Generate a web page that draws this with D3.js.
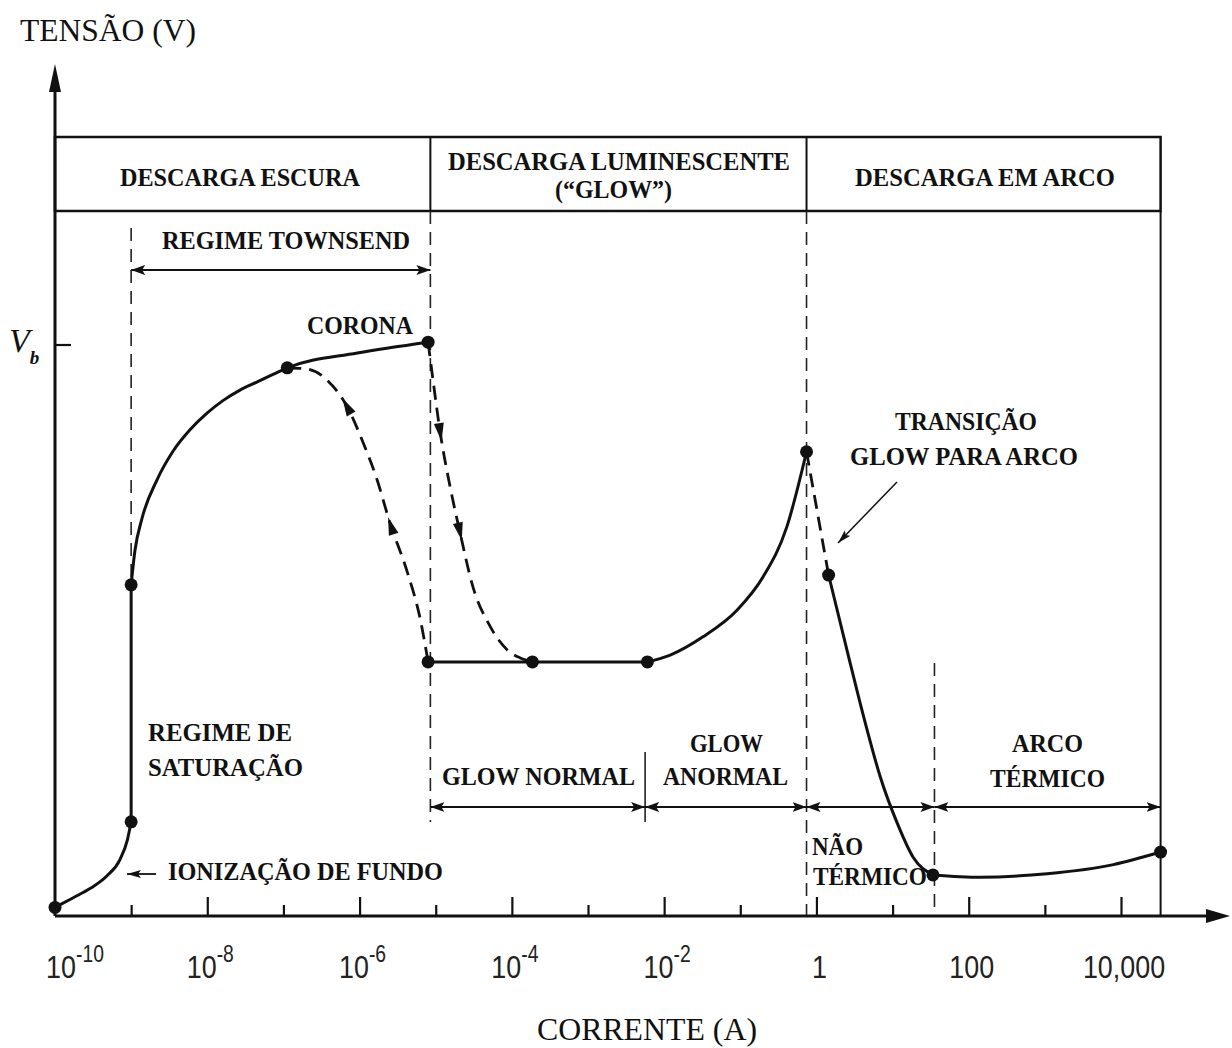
<!DOCTYPE html>
<html>
<head>
<meta charset="utf-8">
<script src="https://cdn.jsdelivr.net/npm/d3@7"></script>
<style>
  html, body { margin: 0; background: #fff; }
  svg { display: block; }
</style>
</head>
<body>
<svg id="chart" width="1232" height="1048"></svg>
<script>
// ---- Data: log10 of current (A) and voltage relative to breakdown (Vb = 100) ----
const decadeExponents = d3.range(-10, 5);
const labelExponents = [-10, -8, -6, -4, -2, 0, 2, 4];
const tickLabelBase = ["10", "10", "10", "10", "10", "1", "100", "10,000"];
const tickLabelSup = ["-10", "-8", "-6", "-4", "-2", "", "", ""];
const breakdownVoltage = 100;

const ionizationCurve = [[-10, 1.5], [-9.76, 3.2], [-9.54, 4.8], [-9.32, 7.0], [-9.15, 9.8], [-9.05, 13.3], [-9.0, 16.5]];
const saturationCurve = [[-9.0, 16.5], [-9.0, 58.0]];
const townsendCurve = [[-9.0, 58.0], [-8.95, 64.0], [-8.86, 69.5], [-8.66, 76.4], [-8.45, 81.4], [-8.23, 85.1],
  [-8.0, 88.1], [-7.79, 90.3], [-7.57, 92.1], [-7.35, 93.5], [-7.13, 94.9], [-6.95, 96.0], [-6.03, 98.6], [-5.1, 100.5]];
const normalGlowCurve = [[-5.1, 44.5], [-3.73, 44.5], [-2.22, 44.5]];
const abnormalGlowCurve = [[-2.22, 44.5], [-1.92, 45.7], [-1.49, 48.9], [-1.04, 53.6], [-0.70, 59.4], [-0.39, 68.1], [-0.13, 81.3]];
const glowToArcCurve = [[-0.13, 81.3], [0.16, 59.7]];
const nonThermalArcCurve = [[0.16, 59.7], [0.41, 46.1], [0.62, 34.9], [0.84, 24.3], [1.06, 16.3], [1.27, 10.3], [1.53, 7.2]];
const thermalArcCurve = [[1.53, 7.2], [2.15, 6.8], [3.03, 7.4], [3.90, 9.0], [4.52, 11.2]];
// hysteresis branches between Townsend and glow regimes
const returnBranch = [[-6.95, 96.0], [-6.69, 95.8], [-6.43, 93.9], [-6.16, 89.1], [-5.95, 82.8], [-5.77, 76.4],
  [-5.60, 68.8], [-5.37, 60.1], [-5.20, 51.8], [-5.1, 44.5]];
const breakdownBranch = [[-5.1, 100.5], [-5.03, 93.3], [-4.94, 84.6], [-4.81, 75.1], [-4.68, 67.1], [-4.51, 57.6],
  [-4.28, 50.6], [-4.06, 46.6], [-3.89, 45.2], [-3.73, 44.5]];
const markedPoints = [[-10, 1.5], [-9.0, 16.5], [-9.0, 58.0], [-6.95, 96.0], [-5.1, 100.5], [-5.1, 44.5],
  [-3.73, 44.5], [-2.22, 44.5], [-0.13, 81.3], [0.16, 59.7], [1.53, 7.2], [4.52, 11.2]];

// regime boundaries (log10 of current)
const saturationEdge = -9.0;
const glowEdge = -5.07;
const abnormalEdge = -2.25;
const arcEdge = -0.13;
const thermalEdge = 1.55;
const rightEdge = 4.52;

// ---- Scales ----
const svg = d3.select("#chart");
const x = d3.scaleLog().domain([1e-10, 1e4]).range([55, 1121]);
const y = d3.scaleLinear().domain([0, 100]).range([916, 345]);
const X = e => x(Math.pow(10, e));
const axisY = y(0);

const serif = "'Liberation Serif','Times New Roman',serif";
const sans = "'Liberation Sans',Arial,sans-serif";

const defs = svg.append("defs");
defs.append("marker")
  .attr("id", "head")
  .attr("viewBox", "0 0 14 10")
  .attr("refX", 14).attr("refY", 5)
  .attr("markerWidth", 14).attr("markerHeight", 10)
  .attr("markerUnits", "userSpaceOnUse")
  .attr("orient", "auto-start-reverse")
  .append("path").attr("d", "M0,0 L14,5 L0,10 L3,5 Z").attr("fill", "#111");
defs.append("marker")
  .attr("id", "thinHead")
  .attr("viewBox", "0 0 14 8")
  .attr("refX", 14).attr("refY", 4)
  .attr("markerWidth", 14).attr("markerHeight", 8)
  .attr("markerUnits", "userSpaceOnUse")
  .attr("orient", "auto")
  .append("path").attr("d", "M0,0 L14,4 L0,8 L3,4 Z").attr("fill", "#111");

// ---- Header band with the three discharge families ----
const headerTop = 137, headerBottom = 211;
svg.append("rect")
  .attr("x", X(-10)).attr("y", headerTop)
  .attr("width", X(rightEdge) - X(-10)).attr("height", headerBottom - headerTop)
  .attr("fill", "none").attr("stroke", "#111").attr("stroke-width", 2.5);
[glowEdge, arcEdge].forEach(e => {
  svg.append("line").attr("x1", X(e)).attr("x2", X(e))
    .attr("y1", headerTop).attr("y2", headerBottom)
    .attr("stroke", "#111").attr("stroke-width", 2);
});

// ---- Regime guide lines ----
const dashed = (e, y1, y2) => svg.append("line")
  .attr("x1", X(e)).attr("x2", X(e)).attr("y1", y1).attr("y2", y2)
  .attr("stroke", "#222").attr("stroke-width", 1.6).attr("stroke-dasharray", "13,8");
dashed(saturationEdge, 228, y(58));
dashed(glowEdge, headerBottom, 822);
dashed(arcEdge, headerBottom, axisY);
dashed(thermalEdge, 663, axisY);
svg.append("line").attr("x1", X(abnormalEdge)).attr("x2", X(abnormalEdge))
  .attr("y1", 752).attr("y2", 822).attr("stroke", "#222").attr("stroke-width", 1.6);
svg.append("line").attr("x1", X(rightEdge)).attr("x2", X(rightEdge))
  .attr("y1", headerBottom).attr("y2", axisY).attr("stroke", "#111").attr("stroke-width", 2);

// double-headed span arrows
const span = (e1, e2, yy) => svg.append("line")
  .attr("x1", X(e1)).attr("x2", X(e2)).attr("y1", yy).attr("y2", yy)
  .attr("stroke", "#111").attr("stroke-width", 2)
  .attr("marker-start", "url(#head)").attr("marker-end", "url(#head)");
span(saturationEdge, glowEdge, 270);
span(glowEdge, abnormalEdge, 807);
span(abnormalEdge, arcEdge, 807);
span(arcEdge, thermalEdge, 807);
span(thermalEdge, rightEdge, 807);

// ---- Axes ----
svg.append("line").attr("x1", X(-10)).attr("x2", 1210).attr("y1", axisY).attr("y2", axisY)
  .attr("stroke", "#111").attr("stroke-width", 3);
svg.append("path").attr("d", `M1230,${axisY} L1206,${axisY - 7} L1206,${axisY + 7} Z`).attr("fill", "#111");
svg.append("line").attr("x1", X(-10)).attr("x2", X(-10)).attr("y1", axisY).attr("y2", 88)
  .attr("stroke", "#111").attr("stroke-width", 3);
svg.append("path").attr("d", `M${X(-10)},64 L${X(-10) - 6},92 L${X(-10) + 6},92 Z`).attr("fill", "#111");

const majorAxis = d3.axisTop(x)
  .tickValues(decadeExponents.filter(e => e > -10 && e % 2 === 0).map(e => Math.pow(10, e)))
  .tickSize(19).tickFormat("");
const minorAxis = d3.axisTop(x)
  .tickValues(decadeExponents.filter(e => e % 2 !== 0).map(e => Math.pow(10, e)))
  .tickSize(11).tickFormat("");
[majorAxis, minorAxis].forEach(ax => {
  const g = svg.append("g").attr("transform", `translate(0,${axisY})`).call(ax);
  g.select(".domain").remove();
  g.selectAll(".tick line").attr("stroke", "#111").attr("stroke-width", 2.2);
});

// tick labels
labelExponents.forEach((e, i) => {
  const lx = i === 0 ? X(e) + 20 : X(e) + 3;
  const t = svg.append("text")
    .attr("transform", `translate(${lx},978) scale(0.84,1)`)
    .attr("text-anchor", "middle")
    .attr("font-family", sans).attr("font-size", 32).attr("fill", "#222");
  t.append("tspan").text(tickLabelBase[i]);
  if (tickLabelSup[i]) {
    t.append("tspan").attr("dy", -16).attr("font-size", 23).text(tickLabelSup[i]);
  }
});

// breakdown voltage tick and label
svg.append("line").attr("x1", X(-10)).attr("x2", X(-10) + 16)
  .attr("y1", y(breakdownVoltage)).attr("y2", y(breakdownVoltage))
  .attr("stroke", "#111").attr("stroke-width", 2.2);
const vb = svg.append("text").attr("x", 9).attr("y", y(breakdownVoltage) + 7)
  .attr("font-family", serif).attr("font-style", "italic").attr("font-size", 34).attr("fill", "#111");
vb.append("tspan").text("V");
vb.append("tspan").attr("dy", 12).attr("font-size", 19).attr("font-weight", "bold").text("b");

// axis titles
svg.append("text").attr("x", 20).attr("y", 41).attr("font-family", serif).attr("font-size", 32)
  .attr("textLength", 176).attr("lengthAdjust", "spacingAndGlyphs").attr("fill", "#111").text("TENSÃO (V)");
svg.append("text").attr("x", 537).attr("y", 1040).attr("font-family", serif).attr("font-size", 32)
  .attr("textLength", 220).attr("lengthAdjust", "spacingAndGlyphs").attr("fill", "#111").text("CORRENTE (A)");

// ---- Characteristic curve ----
const smooth = d3.line().x(d => X(d[0])).y(d => y(d[1])).curve(d3.curveMonotoneX);
const straight = d3.line().x(d => X(d[0])).y(d => y(d[1]));
const solidStyle = p => p.attr("fill", "none").attr("stroke", "#111").attr("stroke-width", 3).attr("stroke-linejoin", "round");
[ionizationCurve, townsendCurve, normalGlowCurve, abnormalGlowCurve, nonThermalArcCurve, thermalArcCurve]
  .forEach(c => svg.append("path").attr("d", smooth(c)).call(solidStyle));
svg.append("path").attr("d", straight(saturationCurve)).call(solidStyle);

const dashedCurve = (c, gen) => svg.append("path").attr("d", gen(c))
  .attr("fill", "none").attr("stroke", "#111").attr("stroke-width", 2.8).attr("stroke-dasharray", "14,8");
dashedCurve(glowToArcCurve, straight);
const returnPath = dashedCurve(returnBranch, smooth);
const breakdownPath = dashedCurve(breakdownBranch, smooth);

// direction arrows along the hysteresis branches
function arrowAlong(pathSel, frac, reverse) {
  const node = pathSel.node();
  const L = node.getTotalLength();
  const p = node.getPointAtLength(L * frac);
  const a = node.getPointAtLength(Math.max(0, L * frac - 3));
  const b = node.getPointAtLength(Math.min(L, L * frac + 3));
  let ang = Math.atan2(b.y - a.y, b.x - a.x) * 180 / Math.PI;
  if (reverse) ang += 180;
  svg.append("path").attr("d", "M9,0 L-9,-5 L-9,5 Z")
    .attr("transform", `translate(${p.x},${p.y}) rotate(${ang})`).attr("fill", "#111");
}
arrowAlong(returnPath, 0.22, true);
arrowAlong(returnPath, 0.59, true);
arrowAlong(breakdownPath, 0.26, false);
arrowAlong(breakdownPath, 0.55, false);

svg.append("g").selectAll("circle").data(markedPoints).join("circle")
  .attr("cx", d => X(d[0])).attr("cy", d => y(d[1])).attr("r", 6.5).attr("fill", "#111");

// pointer arrows
svg.append("line").attr("x1", 897).attr("y1", 482).attr("x2", 838).attr("y2", 543)
  .attr("stroke", "#111").attr("stroke-width", 1.5).attr("marker-end", "url(#thinHead)");
svg.append("line").attr("x1", 156).attr("y1", 874).attr("x2", 127).attr("y2", 874)
  .attr("stroke", "#111").attr("stroke-width", 1.8).attr("marker-end", "url(#thinHead)");

// ---- Annotations ----
const labels = [
  ["DESCARGA ESCURA", 120, 360, 186],
  ["DESCARGA LUMINESCENTE", 448, 790, 170],
  ["(“GLOW”)", 555, 672, 198],
  ["DESCARGA EM ARCO", 855, 1115, 186],
  ["REGIME TOWNSEND", 162, 410, 249],
  ["CORONA", 307, 413, 334],
  ["TRANSIÇÃO", 895, 1037, 430],
  ["GLOW PARA ARCO", 850, 1078, 465],
  ["REGIME DE", 148, 292, 741],
  ["SATURAÇÃO", 148, 303, 776],
  ["GLOW NORMAL", 442, 635, 785],
  ["GLOW", 690, 763, 752],
  ["ANORMAL", 663, 788, 785],
  ["ARCO", 1012, 1083, 752],
  ["TÉRMICO", 990, 1105, 787],
  ["NÃO", 812, 863, 855],
  ["TÉRMICO", 813, 927, 885],
  ["IONIZAÇÃO DE FUNDO", 168, 443, 880]
];
svg.append("g").selectAll("text").data(labels).join("text")
  .attr("x", d => d[1]).attr("y", d => d[3])
  .attr("textLength", d => d[2] - d[1]).attr("lengthAdjust", "spacingAndGlyphs")
  .attr("font-family", serif).attr("font-weight", "bold").attr("font-size", 26)
  .attr("fill", "#111").text(d => d[0]);
</script>
</body>
</html>
